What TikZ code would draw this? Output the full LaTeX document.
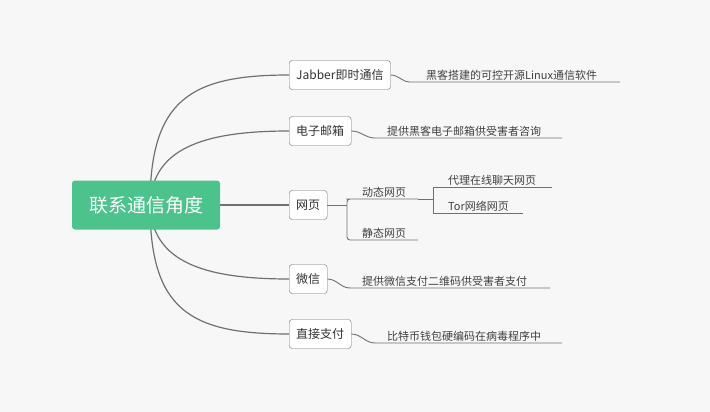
\documentclass[tikz,border=0pt]{standalone}
\usepackage{fontspec}
\setmainfont{Noto Sans CJK SC}
\definecolor{rootgreen}{HTML}{4CC38C}
\definecolor{linegray}{HTML}{707070}
\definecolor{bggray}{HTML}{F7F7F7}
\tikzset{
  topic/.style={draw=linegray,fill=white,rounded corners=3pt,minimum height=29pt,inner xsep=7pt,font=\fontsize{12}{14}\selectfont,text=black!80},
  leaf/.style={anchor=south west,inner sep=1pt,font=\fontsize{11}{13}\selectfont,text=black!75},
  link/.style={linegray,line width=1.2pt},
  uline/.style={linegray,line width=0.9pt}
}
\begin{document}
\begin{tikzpicture}[x=1pt,y=-1pt]
\fill[bggray] (0,0) rectangle (710,412);
\useasboundingbox (0,0) rectangle (710,412);
% branches from the root
\coordinate (hub) at (150,205);
\node[topic,anchor=west] (jabber) at (289,75) {Jabber即时通信};
\node[topic,anchor=west] (mail) at (289,131) {电子邮箱};
\node[topic,anchor=west] (web) at (289,205) {网页};
\node[topic,anchor=west] (wechat) at (289,279) {微信};
\node[topic,anchor=west] (pay) at (289,334) {直接支付};
\draw[link] (hub) .. controls (150,100) and (190,75) .. (jabber.west);
\draw[link] (hub) .. controls (152,150) and (200,131) .. (mail.west);
\draw[link] (hub) -- (web.west);
\draw[link] (hub) .. controls (152,260) and (200,279) .. (wechat.west);
\draw[link] (hub) .. controls (150,310) and (190,334) .. (pay.west);
\node[fill=rootgreen,rounded corners=3pt,minimum width=148pt,minimum height=49pt,text=white,font=\fontsize{19}{22}\selectfont] (root) at (146,205) {联系通信角度};
% leaves
\node[leaf] (l1) at (425,82) {黑客搭建的可控开源Linux通信软件};
\draw[uline] (jabber.east) to[out=0,in=180] (410,82) -- (620,82);
\node[leaf] (l2) at (386,138) {提供黑客电子邮箱供受害者咨询};
\draw[uline] (mail.east) to[out=0,in=180] (375,138) -- (562,138);
\node[leaf] (l4) at (361,288) {提供微信支付二维码供受害者支付};
\draw[uline] (wechat.east) to[out=0,in=180] (350,288) -- (550,288);
\node[leaf] (l5) at (386,343) {比特币钱包硬编码在病毒程序中};
\draw[uline] (pay.east) to[out=0,in=180] (375,343) -- (562,343);
% web sub-branches
\node[leaf] (dyn) at (361,199) {动态网页};
\node[leaf] (sta) at (361,240) {静态网页};
\node[leaf] (proxy) at (447,187) {代理在线聊天网页};
\node[leaf] (tor) at (447,213) {Tor网络网页};
\draw[uline] (web.east) -- (347,205);
\draw[uline,rounded corners=3pt] (418,199) -- (349,199) -- (347,199) |- (418,240);
\draw[uline] (418,199) -- (433,199);
\draw[uline] (552,187) -- (433,187) -- (433,213) -- (523,213);
\end{tikzpicture}
\end{document}
